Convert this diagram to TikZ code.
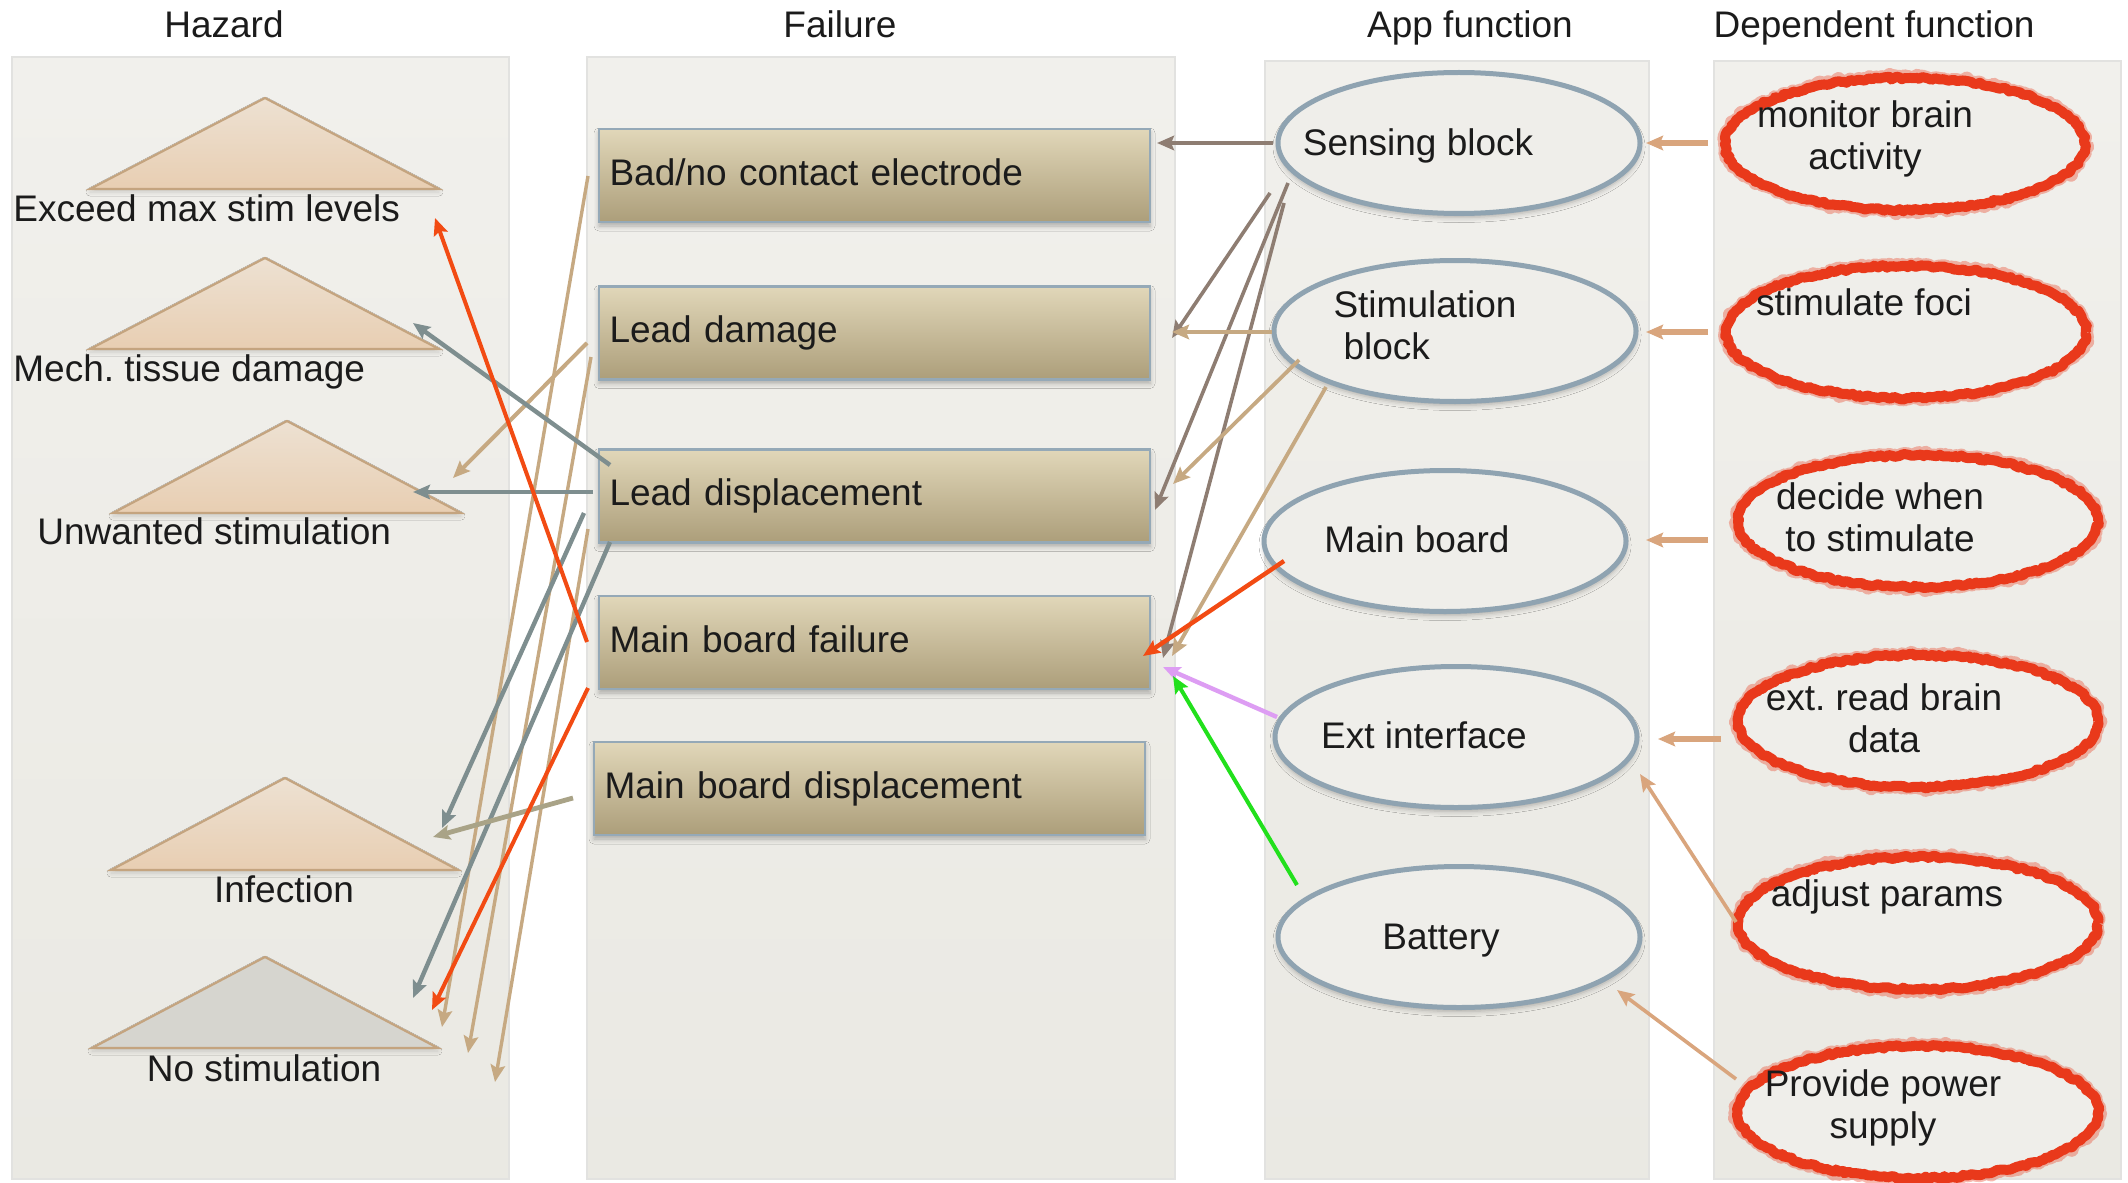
\documentclass[tikz,border=0pt]{standalone}
\usepackage{fontspec}
\setmainfont{Liberation Sans}
\usetikzlibrary{arrows.meta,shapes.geometric,shadows.blur,decorations.pathmorphing}

\definecolor{txt}{HTML}{1B1B1B}
\definecolor{paneltop}{HTML}{F1F0EC}
\definecolor{panelbot}{HTML}{EAE9E3}
\definecolor{paneledge}{HTML}{E2E2E0}
\definecolor{boxtop}{HTML}{E1D7B9}
\definecolor{boxbot}{HTML}{AC9E7A}
\definecolor{boxedge}{HTML}{95A9B7}
\definecolor{ellblue}{HTML}{8FA3B1}
\definecolor{ellfill}{HTML}{EFEEEA}
\definecolor{tritop}{HTML}{EDE1D2}
\definecolor{tribot}{HTML}{E8CEB2}
\definecolor{triedge}{HTML}{C4A47F}
\definecolor{nostimfill}{HTML}{D6D5CF}
\definecolor{redmark}{HTML}{E9391B}
\definecolor{slate}{HTML}{7E8E8F}
\definecolor{tan}{HTML}{C6A982}
\definecolor{brownarr}{HTML}{8E7D72}
\definecolor{khaki}{HTML}{A9A387}
\definecolor{peach}{HTML}{D9A57D}
\definecolor{alarm}{HTML}{F24B13}
\definecolor{violet}{HTML}{DD9DF3}
\definecolor{brightgreen}{HTML}{22E01C}

\newcommand\lblfont{\fontsize{18.5}{21}\selectfont\frenchspacing}

\begin{document}
\begin{tikzpicture}[x=0.5pt, y=-0.5pt,
  every node/.style={font=\lblfont, text=txt},
  panel/.style={top color=paneltop, bottom color=panelbot, draw=paneledge, line width=0.6pt},
  title/.style={inner sep=0pt, text height=13.5pt, text depth=4pt},
  softshadow/.style={blur shadow={shadow xshift=0pt, shadow yshift=-2pt, shadow blur radius=2.5pt, shadow opacity=28}},
  trishadow/.style={blur shadow={shadow xshift=0pt, shadow yshift=-1.5pt, shadow blur radius=2pt, shadow opacity=16}},
  tri/.style={draw=triedge, line width=1.1pt, top color=tritop, bottom color=tribot, trishadow},
  hzl/.style={inner sep=0pt, text height=13.5pt, text depth=4pt},
  failbox/.style={rectangle, draw=boxedge, line width=1.2pt, top color=boxtop, bottom color=boxbot,
    minimum width=275.5pt, minimum height=46.5pt, text width=265pt, align=left,
    inner xsep=5pt, inner ysep=0pt, text height=13.5pt, text depth=4pt, softshadow},
  appell/.style={ellipse, draw=ellblue, line width=2.5pt, fill=ellfill, minimum width=181pt,
    minimum height=70.5pt, inner sep=0pt, softshadow},
  depell/.style={ellipse, draw=redmark, line width=5pt, fill=ellfill, minimum width=180pt,
    minimum height=66pt, inner sep=0pt, line join=round,
    preaction={draw=redmark, draw opacity=0.35, line width=7pt, decorate,
      decoration={random steps, segment length=1pt, amplitude=1.3pt}},
    decorate, decoration={random steps, segment length=1.6pt, amplitude=0.7pt}},
  inlbl/.style={inner sep=0pt, align=left, text height=13.5pt, text depth=4pt},
  inlbltwo/.style={inner sep=0pt, align=left},
  deplbl/.style={inner sep=0pt, align=center, text height=13.5pt, text depth=4pt},
  deplbltwo/.style={inner sep=0pt, align=center},
  tip/.style={-{Stealth[length=#1, width=0.85*#1, inset=1.5pt]}},
  tip/.default=8.5pt,
  conn/.style n args={2}{draw=#1, line width=#2, tip},
]
\useasboundingbox (0,0) rectangle (2128,1182);
\fill[white] (0,0) rectangle (2128,1182);

% column panels
\path[panel] (12,57) rectangle (509,1179);
\path[panel] (587,57) rectangle (1175,1179);
\path[panel] (1265,61) rectangle (1649,1179);
\path[panel] (1714,61) rectangle (2121,1179);

% column titles
\node[title] (t-haz) at (224,28) {Hazard};
\node[title] (t-fail) at (840,28) {Failure};
\node[title] (t-app) at (1470,28) {App function};
\node[title] (t-dep) at (1874,28) {Dependent function};

% hazards
\path[tri] (265,98) -- (439,189) -- (90,189) -- cycle;
\path[tri] (265,258) -- (439,349) -- (90,349) -- cycle;
\path[tri] (287,421) -- (461,513) -- (113,513) -- cycle;
\path[tri] (285,778) -- (458,870) -- (111,870) -- cycle;
\path[tri, top color=nostimfill, bottom color=nostimfill] (265,957) -- (438,1048) -- (92,1048) -- cycle;

\node[hzl, anchor=west] (exceed) at (13,212) {Exceed max stim levels};
\node[hzl, anchor=west] (mech) at (13,372) {Mech. tissue damage};
\node[hzl, anchor=west] (unw) at (37,535) {Unwanted stimulation};
\node[hzl] (infect) at (284,893) {Infection};
\node[hzl] (nostim) at (264,1072) {No stimulation};

% failures
\node[failbox] (bad) at (874.5,175.5) {Bad/no contact electrode};
\node[failbox] (ldam) at (874.5,333) {Lead damage};
\node[failbox] (ldis) at (874.5,496) {Lead displacement};
\node[failbox] (mbf) at (874.5,642.5) {Main board failure};
\node[failbox] (mbd) at (869.5,788.5) {Main board displacement};

% application functions
\node[appell, label={[inlbl, xshift=-20.5pt, yshift=-1.5pt]center:Sensing block}] (sens) at (1459,143) {};
\node[appell, label={[inlbltwo, xshift=-15pt, yshift=3pt]center:Stimulation\\\hspace*{5pt}block}] (stim) at (1455,331) {};
\node[appell, label={[inlbl, xshift=-14pt, yshift=-1pt]center:Main board}] (mb) at (1445,541) {};
\node[appell, label={[inlbl, xshift=-16pt, yshift=-1pt]center:Ext interface}] (ext) at (1456,737) {};
\node[appell, label={[inlbl, xshift=-9pt, yshift=-1.5pt]center:Battery}] (bat) at (1459,937) {};

% dependent functions
\node[depell, label={[deplbltwo, xshift=-20pt, yshift=2.5pt]center:monitor brain\\activity}] (mon) at (1905,144) {};
\node[depell, label={[deplbl, xshift=-21pt, yshift=13pt]center:stimulate foci}] (foci) at (1906,332) {};
\node[depell, label={[deplbltwo, xshift=-19pt, yshift=2pt]center:decide when\\to stimulate}] (dec) at (1918,521) {};
\node[depell, label={[deplbltwo, xshift=-17pt, yshift=1.5pt]center:ext. read brain\\data}] (xrd) at (1918,721) {};
\node[depell, label={[deplbl, xshift=-15.5pt, yshift=13pt]center:adjust params}] (adj) at (1918,923) {};
\node[depell, label={[deplbltwo, xshift=-17.5pt, yshift=2pt]center:Provide power\\supply}] (pow) at (1918,1112) {};

% connector end points
\coordinate (sens-a) at (1273,143);  \coordinate (bad-a) at (1157,143);
\coordinate (sens-b) at (1270,193);  \coordinate (ldam-a) at (1172,338);
\coordinate (stim-a) at (1272,332);  \coordinate (ldam-b) at (1172,332);
\coordinate (sens-c) at (1288,183);  \coordinate (ldis-a) at (1155,510);
\coordinate (sens-d) at (1284,203);  \coordinate (mbf-a) at (1163,658);
\coordinate (stim-b) at (1299,360);  \coordinate (ldis-b) at (1173,484);
\coordinate (stim-c) at (1326,387);  \coordinate (mbf-b) at (1172,656);
\coordinate (mb-a) at (1284,561);    \coordinate (mbf-c) at (1143,656);
\coordinate (ext-a) at (1277,717);   \coordinate (mbf-d) at (1163,667);
\coordinate (bat-a) at (1297,885);   \coordinate (mbf-e) at (1173,676);

\coordinate (mbf-f) at (587,642);    \coordinate (exceed-a) at (435,218);
\coordinate (ldis-c) at (610,465);   \coordinate (mech-a) at (413,323);
\coordinate (ldam-c) at (587,343);   \coordinate (unw-a) at (453,478);
\coordinate (ldis-d) at (593,492);   \coordinate (unw-b) at (413,492);
\coordinate (bad-b) at (588,176);    \coordinate (nostim-a) at (442,1027);
\coordinate (ldam-d) at (591,357);   \coordinate (nostim-b) at (468,1053);
\coordinate (ldis-e) at (588,529);   \coordinate (nostim-c) at (495,1082);
\coordinate (ldis-f) at (584,513);   \coordinate (infect-a) at (442,828);
\coordinate (ldis-g) at (610,542);   \coordinate (nostim-d) at (413,998);
\coordinate (mbf-g) at (588,688);    \coordinate (nostim-e) at (432,1010);
\coordinate (mbd-a) at (573,798);    \coordinate (infect-b) at (433,837);

\coordinate (mon-a) at (1708,143);   \coordinate (sens-r) at (1646,143);
\coordinate (foci-a) at (1708,332);  \coordinate (stim-r) at (1646,332);
\coordinate (dec-a) at (1708,540);   \coordinate (mb-r) at (1646,540);
\coordinate (xrd-a) at (1721,739);   \coordinate (ext-r) at (1658,739);
\coordinate (adj-a) at (1736,922);   \coordinate (ext-s) at (1640,774);
\coordinate (pow-a) at (1736,1079);  \coordinate (bat-r) at (1617,990);

% failures leading to hazards
\draw[conn={tan}{1.7pt}] (bad-b) -- (nostim-a);
\draw[conn={tan}{1.7pt}] (ldam-d) -- (nostim-b);
\draw[conn={tan}{1.7pt}] (ldis-e) -- (nostim-c);
\draw[conn={tan}{2pt}] (ldam-c) -- (unw-a);
\draw[conn={slate}{2.2pt}] (ldis-c) -- (mech-a);
\draw[conn={slate}{2.2pt}] (ldis-d) -- (unw-b);
\draw[conn={slate}{2.2pt}] (ldis-f) -- (infect-a);
\draw[conn={slate}{2.2pt}] (ldis-g) -- (nostim-d);
\draw[conn={khaki}{2.4pt}] (mbd-a) -- (infect-b);
\draw[conn={alarm}{2pt}] (mbf-f) -- (exceed-a);
\draw[conn={alarm}{2pt}] (mbf-g) -- (nostim-e);

% application functions leading to failures
\draw[conn={brownarr}{2.2pt}] (sens-a) -- (bad-a);
\draw[conn={brownarr}{1.8pt}] (sens-b) -- (ldam-a);
\draw[conn={brownarr}{1.8pt}] (sens-c) -- (ldis-a);
\draw[conn={brownarr}{1.8pt}] (sens-d) -- (mbf-a);
\draw[conn={tan}{2.2pt}] (stim-a) -- (ldam-b);
\draw[conn={tan}{1.9pt}] (stim-b) -- (ldis-b);
\draw[conn={tan}{1.9pt}] (stim-c) -- (mbf-b);
\draw[conn={alarm}{2.2pt}] (mb-a) -- (mbf-c);
\draw[conn={violet}{2.2pt}] (ext-a) -- (mbf-d);
\draw[conn={brightgreen}{2pt}] (bat-a) -- (mbf-e);

% dependent functions leading to application functions
\draw[conn={peach}{3pt}] (mon-a) -- (sens-r);
\draw[conn={peach}{3pt}] (foci-a) -- (stim-r);
\draw[conn={peach}{3pt}] (dec-a) -- (mb-r);
\draw[conn={peach}{3pt}] (xrd-a) -- (ext-r);
\draw[conn={peach}{1.8pt}] (adj-a) -- (ext-s);
\draw[conn={peach}{1.8pt}] (pow-a) -- (bat-r);
\end{tikzpicture}
\end{document}
